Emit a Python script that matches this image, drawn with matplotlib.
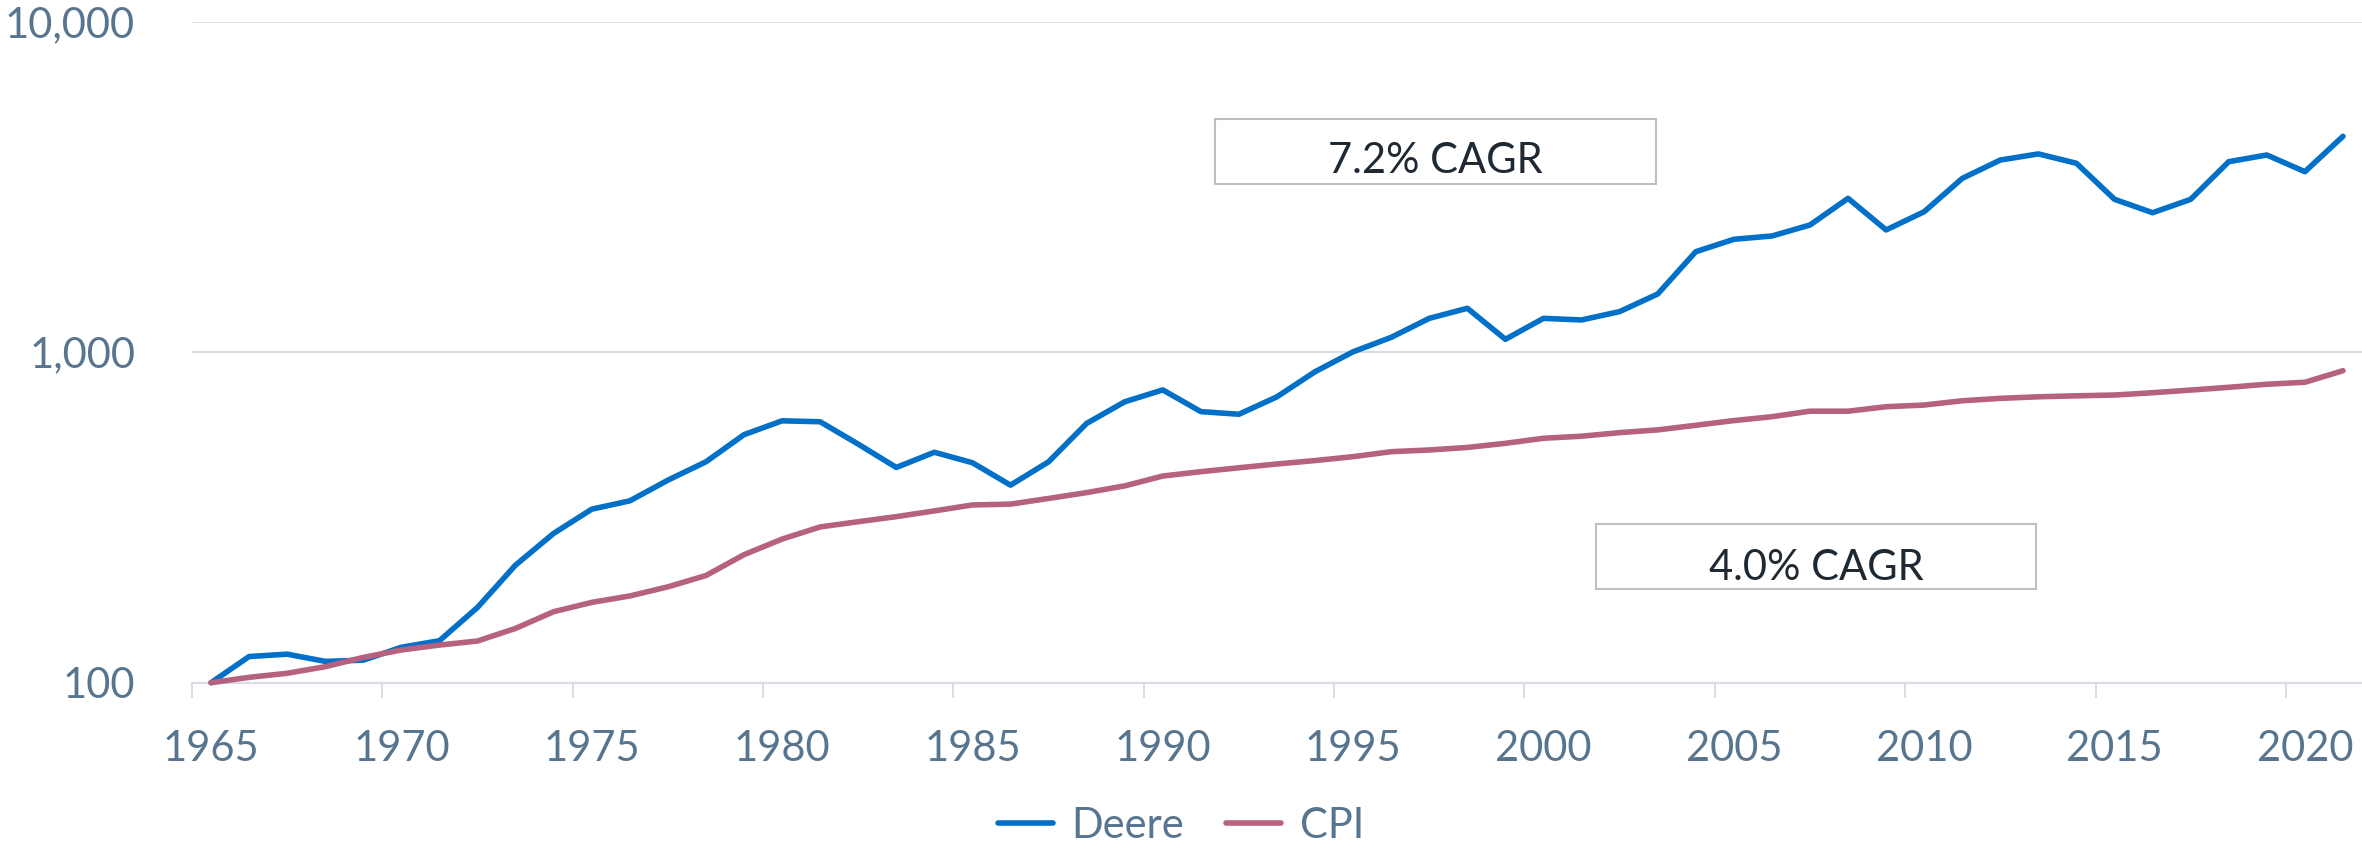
import matplotlib
matplotlib.use("Agg")
import matplotlib.pyplot as plt
from matplotlib.patches import Rectangle
from matplotlib.ticker import FixedLocator, FuncFormatter, NullLocator

# ---------------- data ----------------
years = list(range(1965, 2022))
deere = [100, 120, 122, 116, 117, 128, 134, 169, 227, 283,
         335, 355, 410, 466, 563, 620, 616, 527, 448, 498,
         463, 396, 466, 609, 708, 769, 661, 649, 733, 873,
         1003, 1109, 1266, 1358, 1094, 1266, 1252, 1327, 1500, 2014,
         2196, 2247, 2426, 2921, 2344, 2661, 3357, 3815, 3981, 3729,
         2901, 2643, 2901, 3771, 3951, 3517, 4500]
cpi = [100, 103.8, 106.8, 111.8, 119.3, 125.6, 130, 133.7, 146, 164,
       175, 183, 195, 211, 244, 272, 296, 307, 318, 331,
       345, 347, 361, 376, 394, 422, 435, 447, 459, 470,
       483, 500, 506, 515, 530, 549, 557, 571, 582, 601,
       621, 638, 663, 663, 684, 692, 713, 725, 733, 738,
       742, 754, 768, 783, 800, 811, 879]
series_names = ["Deere", "CPI"]
y_tick_values = [100, 1000, 10000]
x_label_years = list(range(1965, 2021, 5))
cagr_labels = ["7.2% CAGR", "4.0% CAGR"]

# ---------------- style ----------------
W, H = 2362, 850
FONT = "Lato"
TICK_COLOR = "#587590"
GRID_COLOR = "#D9DEE6"
DEERE_COLOR = "#0070C8"
CPI_COLOR = "#B5617F"
LW = 4.0

plt.rcParams["font.family"] = [FONT, "DejaVu Sans"]

fig = plt.figure(figsize=(W / 100, H / 100), dpi=100)
ax_bottom_px, ax_top_px = 682.7, 21.7
ax = fig.add_axes([192 / W, (H - ax_bottom_px) / H, 2170 / W,
                   (ax_bottom_px - ax_top_px) / H])

l1, = ax.plot(years, deere, color=DEERE_COLOR, lw=LW, clip_on=False,
              zorder=4, solid_joinstyle="round", solid_capstyle="round",
              label=series_names[0])
l2, = ax.plot(years, cpi, color=CPI_COLOR, lw=LW, clip_on=False,
              zorder=5, solid_joinstyle="round", solid_capstyle="round",
              label=series_names[1])

ax.set_yscale("log")
ax.set_ylim(100, 10000)
ax.set_xlim(years[0] - 0.5, years[-1] + 0.5)

ax.yaxis.set_major_locator(FixedLocator(y_tick_values))
ax.yaxis.set_minor_locator(NullLocator())
ax.yaxis.set_major_formatter(FuncFormatter(lambda v, p: f"{v:,.0f}"))

ax.xaxis.set_major_locator(FixedLocator(x_label_years))
ax.xaxis.set_major_formatter(FuncFormatter(lambda v, p: f"{int(round(v))}"))
ax.xaxis.set_minor_locator(FixedLocator([y - 0.5 for y in x_label_years]))

ax.tick_params(axis="y", which="major", length=0, pad=41, labelsize=30,
               labelcolor=TICK_COLOR)
ax.tick_params(axis="x", which="major", length=0, pad=34, labelsize=30,
               labelcolor=TICK_COLOR)
ax.tick_params(axis="x", which="minor", length=10.8, width=1.5,
               color=GRID_COLOR, direction="out")

ax.grid(axis="y", which="major", color=GRID_COLOR, lw=1.5, zorder=0)
for s in ["top", "left", "right"]:
    ax.spines[s].set_visible(False)
ax.spines["bottom"].set_color(GRID_COLOR)
ax.spines["bottom"].set_linewidth(1.5)

# ---------------- CAGR boxes ----------------
boxes = [  # (x0, y0_top, x1, y1_bottom, text_x, baseline_y) in pixels from top-left
    (1215, 119, 1656, 184, 1435.5, 173),
    (1596, 524, 2036, 589, 1816, 580),
]
for (x0, y0, x1, y1, tx, ty), label in zip(boxes, cagr_labels):
    fig.add_artist(Rectangle((x0 / W, (H - y1) / H), (x1 - x0) / W,
                             (y1 - y0) / H, transform=fig.transFigure,
                             facecolor="white", edgecolor="#BFBFBF",
                             lw=1.5, zorder=6))
    fig.text(tx / W, (H - ty) / H, label, ha="center", va="baseline",
             fontsize=30, color="#1F2933", zorder=7)

# ---------------- legend ----------------
leg = fig.legend(handles=[l1, l2], loc="center", bbox_to_anchor=(0.5, (H - 826) / H),
                 ncol=2, frameon=False, fontsize=30, handlelength=1.32,
                 handletextpad=0.45, columnspacing=1.0,
                 labelcolor=TICK_COLOR)
for h in leg.legend_handles:
    h.set_solid_capstyle("round")

fig.savefig("out.png", dpi=100, facecolor="white")
